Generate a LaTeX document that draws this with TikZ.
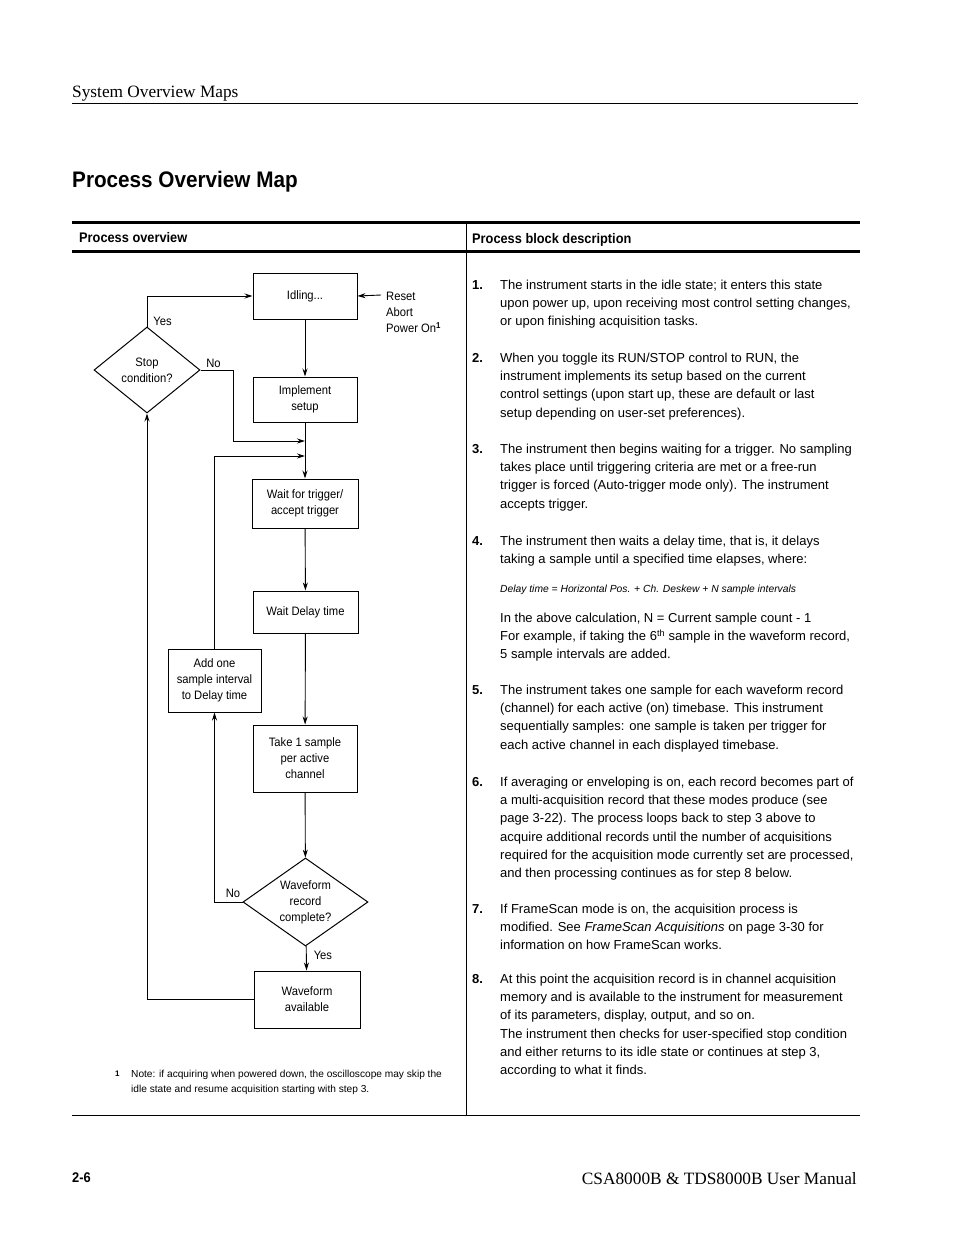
\documentclass[tikz,border=0pt]{standalone}
\usepackage{fontspec}
\setmainfont{Liberation Sans}
\newfontfamily\serifrm{Liberation Serif}
\newfontfamily\condsans[FakeStretch=0.92]{Liberation Sans}
\usetikzlibrary{arrows.meta,shapes.geometric}

\begin{document}
\begin{tikzpicture}[x=1pt,y=-1pt,>={Stealth[length=8pt,width=5pt]},
  procbox/.style={draw,line width=1pt,inner sep=0pt,align=center,font=\condsans\fontsize{12.2}{16}\selectfont},
  decision/.style={draw,diamond,line width=1pt,inner sep=0pt,align=center,font=\condsans\fontsize{12.2}{16}\selectfont},
  flow/.style={->,line width=0.9pt},
  lbl/.style={font=\condsans\fontsize{12.2}{16}\selectfont,inner sep=2pt},
  desc/.style={anchor=north west,inner sep=0pt,align=left,font=\fontsize{13}{18.3}\selectfont},
  stepno/.style={anchor=north west,inner sep=0pt,font=\fontsize{13}{18.3}\selectfont\bfseries}]

  % page
  \path[fill=white] (0,0) rectangle (954,1235);
  \useasboundingbox (0,0) rectangle (954,1235);

  % running head and title
  \node[anchor=base west,inner sep=0pt,font=\serifrm\fontsize{17.3}{20}\selectfont] (runhead) at (72,97) {System Overview Maps};
  \draw[line width=1pt] (72,103) -- (858,103);
  \node[anchor=base west,inner sep=0pt,font=\condsans\fontsize{22.5}{26}\selectfont\bfseries] (title) at (72,187) {Process Overview Map};

  % table frame
  \draw[line width=3pt] (72,222) -- (860,222);
  \draw[line width=3pt] (72,251) -- (860,251);
  \draw[line width=1pt] (466,222) -- (466,1115);
  \draw[line width=1pt] (72,1115) -- (860,1115);
  \node[anchor=base west,inner sep=0pt,font=\condsans\fontsize{13.9}{16}\selectfont\bfseries] (colA) at (79,242) {Process overview};
  \node[anchor=base west,inner sep=0pt,font=\condsans\fontsize{13.9}{16}\selectfont\bfseries] (colB) at (472,243) {Process block description};

  % flowchart blocks
  \node[procbox,minimum width=104,minimum height=46] (idle) at (305,296) {Idling...};
  \node[procbox,minimum width=104,minimum height=45] (impl) at (305,399.5) {Implement\\setup};
  \node[procbox,minimum width=106,minimum height=49] (trig) at (305,503.5) {Wait for trigger/\\accept trigger};
  \node[procbox,minimum width=105,minimum height=42] (delay) at (305.5,612) {Wait Delay time};
  \node[procbox,minimum width=104,minimum height=67] (take) at (305,758.5) {Take 1 sample\\per active\\channel};
  \node[procbox,minimum width=106,minimum height=57] (avail) at (307,999.5) {Waveform\\available};
  \node[procbox,minimum width=93,minimum height=63] (addone) at (214.5,680.5) {Add one\\sample interval\\to Delay time};
  \node[decision,minimum width=106,minimum height=86,aspect=1.23] (stop) at (147,370) {Stop\\condition?};
  \node[decision,minimum width=125,minimum height=88,aspect=1.42] (wfc) at (305.5,902) {Waveform\\record\\complete?};

  % inputs to idle
  \coordinate (rst) at (381,295);
  \node[anchor=north west,inner sep=0pt,align=left,font=\condsans\fontsize{12.2}{16}\selectfont] (rstxt) at (386,289)
    {\strut Reset\\Abort\\Power On\textsuperscript{\bfseries 1}};
  \draw[flow] (rst) -- (idle.east);

  % junctions on the main line
  \coordinate (j1) at (305,441);
  \coordinate (j2) at (305,456);
  \coordinate (nobend) at (233,441);

  % connectors
  \draw[flow] (idle) -- (impl);
  \draw[flow] (impl) -- (trig);
  \draw[flow] (trig) -- (delay);
  \draw[flow] (delay) -- (take);
  \draw[flow] (take) -- (wfc);
  \draw[flow] (wfc) -- node[lbl,pos=0.4,right=5pt] {Yes} (avail);
  \draw[flow] (stop.north) |- node[lbl,pos=0.08,right=4pt] {Yes} (idle.west);
  \draw[flow] (stop.east) -| node[lbl,pos=0.2,above] {No} (nobend) -- (j1);
  \draw[flow] (addone.north) |- (j2);
  \draw[flow] (wfc.west) -| node[lbl,pos=0.17,above,yshift=2pt] {No} (addone.south);
  \draw[flow] (avail.west) -| (stop.south);

  % footnote
  \node[anchor=base west,inner sep=0pt,font=\fontsize{8}{10}\selectfont\bfseries] (fnmark) at (115,1076) {1};
  \node[anchor=north west,inner sep=0pt,align=left,font=\fontsize{10.15}{15}\selectfont] (fntext) at (131,1067)
    {\strut Note: if acquiring when powered down, the oscilloscope may skip the\\idle state and resume acquisition starting with step 3.};

  % block descriptions
  \node[stepno] (n1) at (472,276.2) {\strut 1.};
  \node[desc] (p1) at (500,276.2) {\strut The instrument starts in the idle state; it enters this state\\upon power up, upon receiving most control setting changes,\\or upon finishing acquisition tasks.};
  \node[stepno] (n2) at (472,349.2) {\strut 2.};
  \node[desc] (p2) at (500,349.2) {\strut When you toggle its RUN/STOP control to RUN, the\\instrument implements its setup based on the current\\control settings (upon start up, these are default or last\\setup depending on user-set preferences).};
  \node[stepno] (n3) at (472,440.2) {\strut 3.};
  \node[desc] (p3) at (500,440.2) {\strut The instrument then begins waiting for a trigger. No sampling\\takes place until triggering criteria are met or a free-run\\trigger is forced (Auto-trigger mode only). The instrument\\accepts trigger.};
  \node[stepno] (n4) at (472,532.2) {\strut 4.};
  \node[desc] (p4) at (500,532.2) {\strut The instrument then waits a delay time, that is, it delays\\taking a sample until a specified time elapses, where:};
  \node[anchor=base west,inner sep=0pt,font=\fontsize{10.3}{12}\selectfont\itshape] (formula) at (500,592)
    {Delay time = Horizontal Pos. + Ch. Deskew + N sample intervals};
  \node[desc] (calc) at (500,609.2) {\strut In the above calculation, N = Current sample count - 1\\For example, if taking the 6\textsuperscript{th} sample in the waveform record,\\5 sample intervals are added.};
  \node[stepno] (n5) at (472,681.2) {\strut 5.};
  \node[desc] (p5) at (500,681.2) {\strut The instrument takes one sample for each waveform record\\(channel) for each active (on) timebase. This instrument\\sequentially samples: one sample is taken per trigger for\\each active channel in each displayed timebase.};
  \node[stepno] (n6) at (472,773.2) {\strut 6.};
  \node[desc] (p6) at (500,773.2) {\strut If averaging or enveloping is on, each record becomes part of\\a multi-acquisition record that these modes produce (see\\page 3-22). The process loops back to step 3 above to\\acquire additional records until the number of acquisitions\\required for the acquisition mode currently set are processed,\\and then processing continues as for step 8 below.};
  \node[stepno] (n7) at (472,900.2) {\strut 7.};
  \node[desc] (p7) at (500,900.2) {\strut If FrameScan mode is on, the acquisition process is\\modified. See \textit{FrameScan Acquisitions} on page 3-30 for\\information on how FrameScan works.};
  \node[stepno] (n8) at (472,970.2) {\strut 8.};
  \node[desc] (p8) at (500,970.2) {\strut At this point the acquisition record is in channel acquisition\\memory and is available to the instrument for measurement\\of its parameters, display, output, and so on.\\The instrument then checks for user-specified stop condition\\and either returns to its idle state or continues at step 3,\\according to what it finds.};

  % running foot
  \node[anchor=base west,inner sep=0pt,font=\condsans\fontsize{14}{16}\selectfont\bfseries] (pageno) at (72,1182) {2-6};
  \node[anchor=base east,inner sep=0pt,font=\serifrm\fontsize{17.3}{20}\selectfont] (manual) at (857,1184) {CSA8000B \& TDS8000B User Manual};
\end{tikzpicture}
\end{document}
